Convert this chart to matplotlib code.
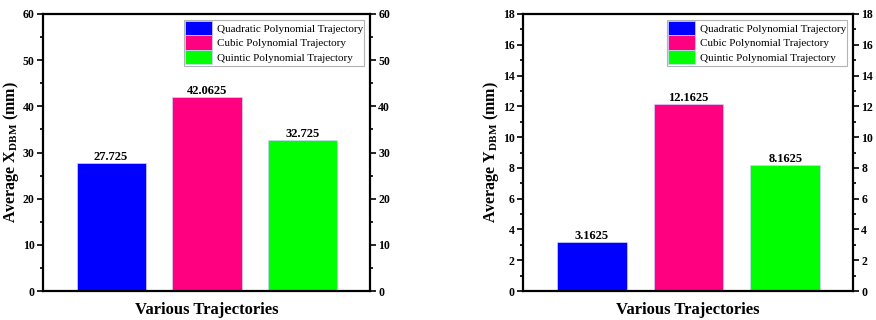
import numpy as np
import matplotlib.pyplot as plt
from matplotlib.ticker import MultipleLocator

plt.rcParams['font.family'] = ['Liberation Serif', 'DejaVu Serif']
plt.rcParams['mathtext.fontset'] = 'custom'
plt.rcParams['mathtext.rm'] = 'Liberation Serif:bold'

# Trajectory types and average deviations
trajectories = ['Quadratic Polynomial Trajectory', 'Cubic Polynomial Trajectory',
                'Quintic Polynomial Trajectory']
avg_x = [27.725, 42.0625, 32.725]
avg_y = [3.1625, 12.1625, 8.1625]
colors = ['#0000FF', '#FF0080', '#00FF00']


def bar_panel(ax, values, ymax, major, ylabel):
    pos = np.arange(1, len(values) + 1)
    bars = ax.bar(pos, values, width=0.72, color=colors, edgecolor='#d0d0ff',
                  linewidth=0.5, label=trajectories)
    for b, v in zip(bars, values):
        ax.text(b.get_x() + b.get_width() / 2, v, f'{v:g}', ha='center',
                va='bottom', fontsize=9, fontweight='bold')
    ax.set_xlim(0.29, 3.7)
    ax.set_ylim(0, ymax)
    ax.set_xticks([])
    ax.yaxis.set_major_locator(MultipleLocator(major))
    ax.yaxis.set_minor_locator(MultipleLocator(major / 2))
    ax.tick_params(axis='y', which='both', direction='out', left=True, right=True,
                   labelleft=True, labelright=True, labelsize=8.5, width=1.2, pad=2)
    ax.tick_params(axis='y', which='major', length=4)
    ax.tick_params(axis='y', which='minor', length=2.5)
    for lbl in ax.get_yticklabels():
        lbl.set_fontweight('bold')
    for s in ax.spines.values():
        s.set_linewidth(1.6)
    ax.set_ylabel(ylabel, fontsize=11.5, fontweight='bold', labelpad=1)
    ax.set_xlabel('Various Trajectories', fontsize=12, fontweight='bold', labelpad=8)
    leg = ax.legend(loc='upper right', fontsize=8, frameon=True, fancybox=False,
                    handlelength=2.4, handleheight=1.6, handletextpad=0.4,
                    labelspacing=0.0, borderpad=0.15, borderaxespad=0.5)
    leg.get_frame().set_edgecolor('#a0a0a0')
    leg.get_frame().set_linewidth(0.8)


fig = plt.figure(figsize=(8.76, 3.2), dpi=100)
ax1 = fig.add_axes([43 / 876, 29 / 320, 327 / 876, 277 / 320])
ax2 = fig.add_axes([523 / 876, 29 / 320, 330 / 876, 277 / 320])

bar_panel(ax1, avg_x, 60, 10, r'Average X$_{\mathrm{DBM}}$ (mm)')
bar_panel(ax2, avg_y, 18, 2, r'Average Y$_{\mathrm{DBM}}$ (mm)')

fig.savefig('out.png', dpi=100)
